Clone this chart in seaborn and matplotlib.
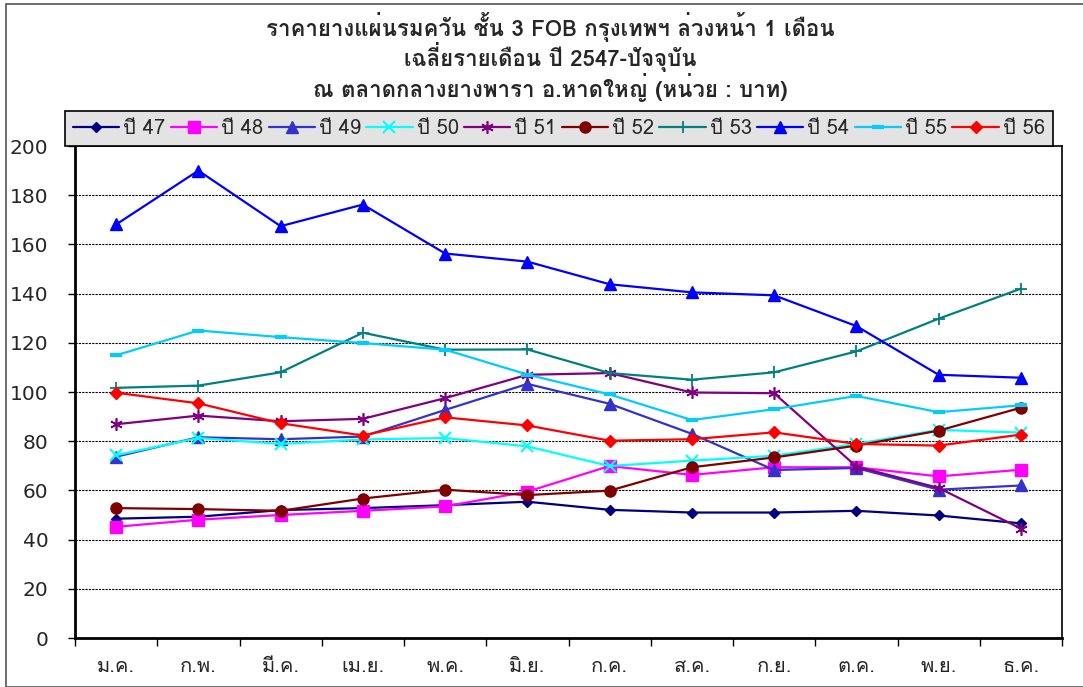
import numpy as np
import pandas as pd
import matplotlib
matplotlib.use("Agg")
import matplotlib.pyplot as plt
import seaborn as sns
from matplotlib import font_manager as fm
from matplotlib.ft2font import FT2Font
from matplotlib.patches import Rectangle

months = ["ม.ค.", "ก.พ.", "มี.ค.", "เม.ย.", "พ.ค.", "มิ.ย.", "ก.ค.", "ส.ค.", "ก.ย.", "ต.ค.", "พ.ย.", "ธ.ค."]
y47 = [48.5, 49.3, 52.0, 52.8, 54.0, 55.4, 52.1, 51.0, 51.0, 51.7, 49.8, 46.6]
y48 = [45.2, 48.1, 50.0, 51.7, 53.5, 59.5, 69.9, 66.3, 69.4, 69.4, 65.7, 68.4]
y49 = [73.7, 81.6, 80.8, 81.9, 92.7, 103.3, 95.2, 83.0, 68.3, 69.1, 60.3, 62.0]
y50 = [74.3, 81.3, 78.9, 80.7, 81.3, 77.9, 69.9, 72.1, 74.1, 78.9, 84.6, 83.5]
y51 = [86.9, 90.4, 88.1, 89.1, 97.5, 107.0, 107.7, 99.8, 99.5, 69.7, 61.0, 44.5]
y52 = [52.8, 52.4, 51.7, 56.7, 60.3, 58.1, 59.9, 69.4, 73.4, 78.2, 84.3, 93.6]
y53 = [101.7, 102.6, 108.0, 124.1, 117.2, 117.3, 107.7, 105.0, 108.0, 116.5, 129.8, 142.0]
y54 = [168.1, 190.0, 167.4, 176.2, 156.3, 153.0, 143.8, 140.5, 139.3, 126.8, 107.0, 105.8]
y55 = [114.9, 125.0, 122.3, 119.9, 117.2, 107.1, 99.0, 88.6, 93.0, 98.4, 91.8, 94.6]
y56 = [99.7, 95.4, 87.3, 82.3, 89.7, 86.4, 80.2, 80.8, 83.6, 78.9, 78.2, 82.7]
series_names = ["ปี 47", "ปี 48", "ปี 49", "ปี 50", "ปี 51", "ปี 52", "ปี 53", "ปี 54", "ปี 55", "ปี 56"]
series_values = [y47, y48, y49, y50, y51, y52, y53, y54, y55, y56]
yticks = [0, 20, 40, 60, 80, 100, 120, 140, 160, 180, 200]
title_lines = ["ราคายางแผ่นรมควัน ชั้น 3 FOB กรุงเทพฯ ล่วงหน้า 1 เดือน",
               "เฉลี่ยรายเดือน ปี 2547-ปัจจุบัน",
               "ณ ตลาดกลางยางพารา อ.หาดใหญ่ (หน่วย : บาท)"]

# find a font with Thai glyphs
thai_fams = []
for f in fm.fontManager.ttflist:
    try:
        cm = FT2Font(f.fname).get_charmap()
        if 0x0E1B in cm and 0x0E32 in cm:
            if f.name not in thai_fams:
                thai_fams.append(f.name)
    except Exception:
        pass

sns.set_theme(style="white")
fam = (thai_fams[:1] if thai_fams else []) + ["DejaVu Sans"]
plt.rcParams["font.family"] = fam

colors = ["#000080", "#FF00FF", "#3333CC", "#00FFFF", "#800080", "#800000", "#008080", "#0000FF", "#00CCFF", "#FF0000"]
markers = ["D", "s", "^", "x", (6, 2, 0), "o", "+", "^", "_", "D"]
msizes = [5, 8, 8, 8, 9, 8, 9, 9, 9, 6]
mews = [1, 1, 1, 1.5, 1.2, 1, 1.3, 1, 3, 1]

rows = []
for name, vals in zip(series_names, series_values):
    for i, v in enumerate(vals):
        rows.append({"series": name, "month": i, "value": v})
df = pd.DataFrame(rows)

fig = plt.figure(figsize=(10.83, 6.87), dpi=100)
ax = fig.add_axes([75 / 1083, 1 - 638 / 687, (1062 - 75) / 1083, (638 - 146) / 687])

for k, name in enumerate(series_names):
    sub = df[df["series"] == name]
    sns.lineplot(data=sub, x="month", y="value", ax=ax, color=colors[k], marker=markers[k],
                 markersize=msizes[k], markeredgewidth=mews[k], markeredgecolor=colors[k],
                 linewidth=1.6, label=name, zorder=3 + k)

ax.set_xlim(-0.5, 11.5)
ax.set_ylim(0, 200)
ax.set_yticks(yticks)
ax.set_yticklabels([str(t) for t in yticks], fontsize=14.5, family="DejaVu Sans")
ax.set_xticks(range(12))
ax.set_xticklabels(months, fontsize=14.5)
ax.set_xticks(np.arange(-0.5, 12, 1), minor=True)
ax.tick_params(axis="x", which="major", length=0, pad=14)
ax.tick_params(axis="x", which="minor", length=6, width=1, color="black", direction="out", bottom=True)
ax.tick_params(axis="y", which="major", length=5, width=1, color="black", direction="out", left=True, pad=14)
ax.set_xlabel("")
ax.set_ylabel("")
for sp in ax.spines.values():
    sp.set_visible(True)
    sp.set_color("black")
    sp.set_linewidth(1.2)
ax.spines["left"].set_linewidth(2)
ax.spines["bottom"].set_linewidth(2)
for t in yticks[1:-1]:
    ax.axhline(t, color="black", linestyle=(0, (2, 1)), linewidth=0.8, zorder=1)

leg = ax.legend(loc="lower left", bbox_to_anchor=(65 / 1083, 1 - 146 / 687, (1053 - 65) / 1083, (146 - 103) / 687),
                bbox_transform=fig.transFigure, mode="expand", ncol=10, fontsize=14.5, frameon=True,
                fancybox=False, edgecolor="black", facecolor="#E3E3E3", framealpha=1,
                handlelength=2.3, handletextpad=0.2, columnspacing=0.4, borderaxespad=0)
leg.get_frame().set_linewidth(1.2)
leg.set_zorder(20)

for i, line in enumerate(title_lines):
    fig.text(0.508, 1 - (27 + 30.5 * i) / 687, line, ha="center", va="center",
             fontsize=16, fontweight="bold")

fig.patches.append(Rectangle((6 / 1083, 0), 1.2, 1 - 4 / 687, transform=fig.transFigure,
                             fill=False, edgecolor="#555555", linewidth=1.2))

fig.savefig("out.png", dpi=100)
